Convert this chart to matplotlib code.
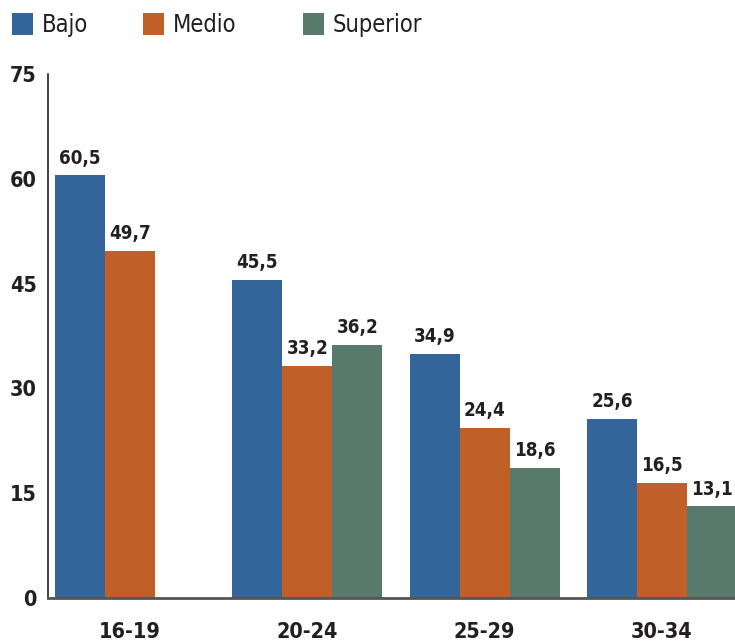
import numpy as np
import matplotlib
matplotlib.use("Agg")
import matplotlib.pyplot as plt
from matplotlib.patches import Rectangle

# Datos
grupos = ["16-19", "20-24", "25-29", "30-34"]
bajo = [60.5, 45.5, 34.9, 25.6]
medio = [49.7, 33.2, 24.4, 16.5]
superior = [np.nan, 36.2, 18.6, 13.1]
series = ["Bajo", "Medio", "Superior"]
yticks = [0, 15, 30, 45, 60, 75]

colores = ["#33659a", "#c05f27", "#577a6c"]
texto = "#231f20"

plt.rcParams['font.family'] = ['DejaVu Sans']
plt.rcParams['font.weight'] = 'bold'
plt.rcParams['font.stretch'] = 'condensed'

fig = plt.figure(figsize=(7.35, 6.41), dpi=100)
ax = fig.add_axes([48/735, 43/641, 687/735, 524/641])

x = np.arange(len(grupos))
w = 0.282
for k, (vals, col) in enumerate(zip([bajo, medio, superior], colores)):
    pos = x + (k - 1) * w
    ax.bar(pos, vals, width=w, color=col, edgecolor='none')
    # etiquetas de valor
    for p, v in zip(pos, vals):
        if np.isnan(v):
            continue
        ax.text(p, v + 1.1, f"{v:.1f}".replace(".", ","), ha='center', va='bottom',
                fontsize=13.5, fontweight='bold', color=texto, clip_on=False)

ax.set_xlim(-0.4625, 3.412)
ax.set_ylim(0, 75)
ax.set_yticks(yticks)
ax.set_yticklabels([str(t) for t in yticks], fontsize=15.5, fontweight='bold', color=texto)
ax.set_xticks(x)
ax.set_xticklabels(grupos, fontsize=15.5, fontweight='bold', color=texto)
ax.tick_params(axis='y', length=0, pad=8)
ax.tick_params(axis='x', length=0, pad=17)
for s in ['top', 'right']:
    ax.spines[s].set_visible(False)
ax.spines['left'].set_color('#222222')
ax.spines['left'].set_linewidth(1.2)
ax.spines['bottom'].set_color('#555555')
ax.spines['bottom'].set_linewidth(2)

# Leyenda manual
leg_x = [12, 143, 303]
for lx, nombre, col in zip(leg_x, series, colores):
    fig.add_artist(Rectangle((lx/735, 1 - 35/641), 21/735, 22/641,
                             transform=fig.transFigure, color=col, ec='none'))
    fig.text((lx + 30)/735, 1 - 25/641, nombre, ha='left', va='center',
             fontsize=17, fontweight='normal', color=texto)

fig.savefig("out.png", dpi=100)
